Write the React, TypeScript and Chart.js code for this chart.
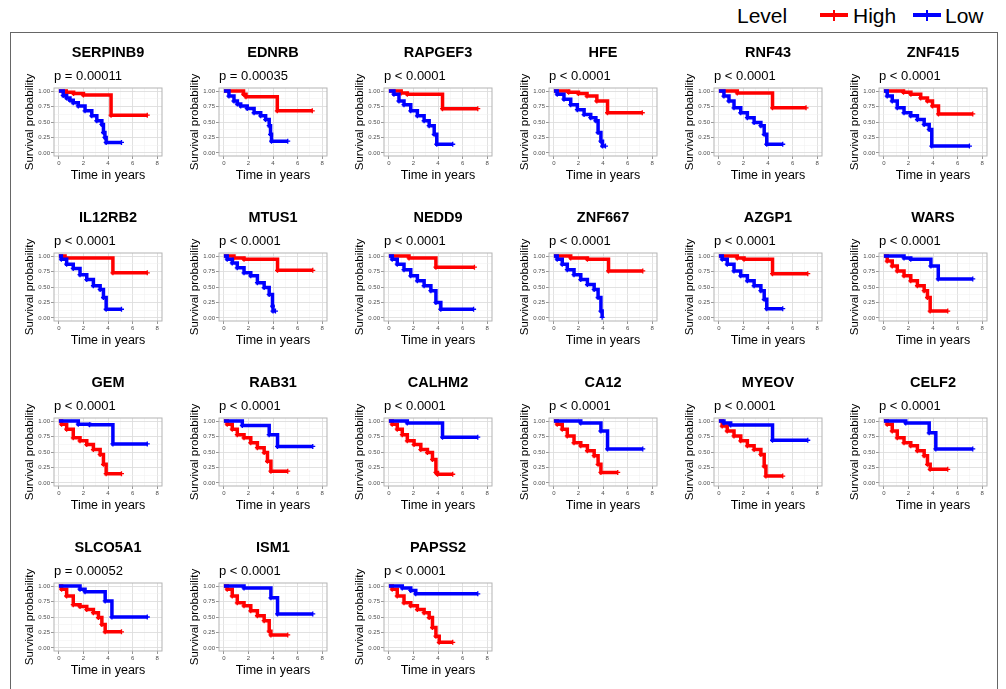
import React, { useEffect, useRef } from "react";
import { Chart, registerables } from "chart.js";
Chart.register(...registerables);

const genes = ["SERPINB9","EDNRB","RAPGEF3","HFE","RNF43","ZNF415","IL12RB2","MTUS1","NEDD9","ZNF667","AZGP1","WARS","GEM","RAB31","CALHM2","CA12","MYEOV","CELF2","SLCO5A1","ISM1","PAPSS2"];
const pValues = ["p = 0.00011","p = 0.00035","p < 0.0001","p < 0.0001","p < 0.0001","p < 0.0001","p < 0.0001","p < 0.0001","p < 0.0001","p < 0.0001","p < 0.0001","p < 0.0001","p < 0.0001","p < 0.0001","p < 0.0001","p < 0.0001","p < 0.0001","p < 0.0001","p = 0.00052","p < 0.0001","p < 0.0001"];
const groupLabels = ["High", "Low"];
const xTickValues = [0, 1, 2, 3, 4, 5, 6, 7, 8];
const xTickLabels = ["0", "", "2", "", "4", "", "6", "", "8"];
const yTickValues = [0, 0.125, 0.25, 0.375, 0.5, 0.625, 0.75, 0.875, 1];
const yTickLabels = ["0.00", "", "0.25", "", "0.50", "", "0.75", "", "1.00"];

const highTimes: number[][] = [
  [0,0.6,1.2,2.0,4.25,7.2],
  [0,1.6,1.8,4.35,7.2],
  [0,1.0,1.5,4.37,7.24],
  [0,1.2,2.0,2.7,3.5,4.37,7.2],
  [0,1.5,4.37,7.1],
  [0,1.6,2.2,3.0,3.55,3.96,4.45,7.24],
  [0,0.5,4.4,7.2],
  [0,0.82,1.64,4.37,7.24],
  [0,1.64,3.83,6.97],
  [0,1.37,2.73,4.45,7.24],
  [0,1.5,2.05,4.37,7.24],
  [0,0.27,0.68,1.09,1.64,2.19,2.73,3.28,3.55,3.77,5.2],
  [0,0.22,0.63,1.17,1.72,2.27,2.81,3.36,3.63,3.85,5.1],
  [0,0.27,0.68,1.09,1.64,2.19,2.73,3.28,3.55,3.83,5.2],
  [0,0.27,0.68,1.09,1.5,2.05,2.6,3.14,3.55,3.83,3.96,5.2],
  [0,0.27,0.68,1.09,1.64,2.19,2.73,3.28,3.6,3.83,5.2],
  [0,0.27,0.68,1.23,1.78,2.32,2.87,3.42,3.69,3.83,5.2],
  [0,0.27,0.68,1.09,1.64,2.19,2.73,3.28,3.55,3.77,5.2],
  [0,0.22,0.63,1.17,1.72,2.27,2.81,3.22,3.5,3.77,5.1],
  [0,0.27,0.68,1.09,1.64,2.19,2.73,3.28,3.69,3.83,5.2],
  [0,0.27,0.68,1.23,1.78,2.32,2.87,3.28,3.55,3.83,4.1,5.2],
];
const highSurv: number[][] = [
  [1,0.98,0.96,0.935,0.61,0.61],
  [1,0.95,0.91,0.68,0.68],
  [1,0.97,0.95,0.715,0.715],
  [1,0.98,0.96,0.92,0.84,0.65,0.65],
  [1,0.97,0.73,0.73],
  [1,0.98,0.95,0.89,0.84,0.76,0.63,0.63],
  [1,0.97,0.73,0.73],
  [1,0.97,0.95,0.77,0.77],
  [1,0.97,0.82,0.82],
  [1,0.97,0.95,0.76,0.76],
  [1,0.97,0.95,0.715,0.715],
  [1,0.92,0.84,0.76,0.68,0.60,0.52,0.44,0.33,0.11,0.11],
  [1,0.95,0.87,0.73,0.68,0.62,0.54,0.46,0.30,0.15,0.15],
  [1,0.95,0.87,0.78,0.73,0.65,0.57,0.49,0.35,0.19,0.19],
  [1,0.95,0.87,0.78,0.68,0.62,0.54,0.49,0.38,0.17,0.14,0.14],
  [1,0.95,0.87,0.76,0.65,0.60,0.52,0.44,0.30,0.17,0.17],
  [1,0.92,0.84,0.76,0.68,0.60,0.54,0.46,0.27,0.11,0.11],
  [1,0.95,0.84,0.73,0.65,0.60,0.52,0.44,0.30,0.22,0.22],
  [1,0.95,0.84,0.70,0.67,0.62,0.57,0.49,0.38,0.26,0.26],
  [1,0.95,0.84,0.73,0.68,0.60,0.52,0.44,0.27,0.21,0.21],
  [1,0.95,0.84,0.73,0.68,0.62,0.57,0.49,0.33,0.19,0.09,0.09],
];
const lowTimes: number[][] = [
  [0,0.35,0.63,0.9,1.17,1.58,2.13,2.68,3.09,3.5,3.63,3.75,3.85,5.1],
  [0,0.41,0.82,1.1,1.37,1.9,2.46,3.0,3.4,3.69,3.8,3.88,5.2],
  [0,0.41,0.82,1.23,1.78,2.32,2.87,3.28,3.69,3.9,5.2],
  [0,0.27,0.82,1.37,1.91,2.46,3.0,3.42,3.6,3.83,3.96,4.2],
  [0,0.41,0.82,1.23,1.78,2.32,2.87,3.42,3.69,3.9,5.2],
  [0,0.27,0.68,1.09,1.64,2.19,2.73,3.28,3.69,3.9,6.97],
  [0,0.2,0.63,1.17,1.72,2.27,2.81,3.36,3.63,3.85,5.1],
  [0,0.27,0.68,1.09,1.64,2.19,2.73,3.28,3.69,3.96,4.0,4.2],
  [0,0.27,0.68,1.23,1.78,2.32,2.87,3.42,3.83,4.23,6.9],
  [0,0.27,0.68,1.09,1.64,2.19,2.73,3.28,3.6,3.83,3.93],
  [0,0.27,0.68,1.23,1.78,2.32,2.87,3.42,3.69,3.9,5.2],
  [0,1.64,2.19,3.83,4.43,7.24],
  [0,1.58,2.5,4.4,7.2],
  [0,1.5,3.69,4.37,7.24],
  [0,1.5,4.37,7.24],
  [0,2.19,3.83,4.37,7.24],
  [0,0.41,0.96,4.37,7.24],
  [0,1.78,3.69,4.23,7.24],
  [0,1.72,2.13,3.77,4.32,7.2],
  [0,1.64,3.83,4.37,7.24],
  [0,1.09,1.78,2.19,7.24],
];
const lowSurv: number[][] = [
  [1,0.93,0.89,0.85,0.81,0.76,0.68,0.60,0.52,0.46,0.33,0.25,0.17,0.17],
  [1,0.92,0.84,0.79,0.76,0.72,0.65,0.60,0.54,0.44,0.30,0.19,0.19],
  [1,0.95,0.84,0.78,0.68,0.60,0.52,0.44,0.30,0.14,0.14],
  [1,0.95,0.87,0.78,0.70,0.62,0.57,0.52,0.33,0.19,0.11,0.11],
  [1,0.92,0.84,0.73,0.65,0.57,0.49,0.44,0.30,0.14,0.14],
  [1,0.92,0.84,0.73,0.65,0.60,0.54,0.46,0.38,0.11,0.11],
  [1,0.95,0.87,0.80,0.70,0.62,0.52,0.46,0.33,0.14,0.14],
  [1,0.95,0.89,0.81,0.73,0.68,0.57,0.49,0.38,0.19,0.11,0.11],
  [1,0.95,0.87,0.78,0.68,0.60,0.52,0.44,0.25,0.14,0.14],
  [1,0.95,0.87,0.78,0.70,0.62,0.54,0.46,0.33,0.11,0.01],
  [1,0.95,0.87,0.76,0.68,0.60,0.52,0.44,0.30,0.15,0.15],
  [1,0.97,0.95,0.84,0.63,0.63],
  [1,0.95,0.94,0.63,0.63],
  [1,0.93,0.78,0.59,0.59],
  [1,0.97,0.74,0.74],
  [1,0.97,0.84,0.55,0.55],
  [1,0.97,0.935,0.69,0.69],
  [1,0.97,0.81,0.55,0.55],
  [1,0.95,0.91,0.76,0.50,0.50],
  [1,0.97,0.81,0.55,0.55],
  [1,0.97,0.93,0.875,0.875],
];

const FONT = "'Liberation Sans', Arial, Helvetica, sans-serif";
const COLORS = ["#ff0000", "#0000ff"];

const framePlugin = {
  id: "frame",
  afterDatasetsDraw(chart: any) {
    const { ctx, chartArea: a } = chart;
    ctx.save();
    ctx.strokeStyle = "#b3b3b3";
    ctx.lineWidth = 1;
    ctx.strokeRect(a.left, a.top, a.right - a.left, a.bottom - a.top);
    ctx.restore();
  },
};

function gridOpts(labels: string[]) {
  return {
    color: (c: any) => (labels[c.index] ? "#dedede" : "#efefef"),
    lineWidth: (c: any) => (labels[c.index] ? 0.9 : 0.5),
    tickColor: (c: any) => (labels[c.index] ? "#8c8c8c" : "rgba(0,0,0,0)"),
    tickLength: 3,
    drawTicks: true,
  };
}

function makeConfig(i: number): any {
  const sets = [
    { t: highTimes[i], s: highSurv[i] },
    { t: lowTimes[i], s: lowSurv[i] },
  ];
  return {
    type: "line",
    data: {
      datasets: sets.map((d, g) => ({
        label: groupLabels[g],
        data: d.t.map((t, k) => ({ x: t, y: d.s[k] })),
        borderColor: COLORS[g],
        backgroundColor: COLORS[g],
        borderWidth: 3.5,
        stepped: "before",
        fill: false,
        pointStyle: "cross",
        pointRadius: (c: any) => (c.dataIndex === 0 ? 0 : 2.5),
        pointBorderWidth: 1.3,
        pointHoverRadius: 0,
        order: g === 0 ? 1 : 0,
      })),
    },
    options: {
      responsive: false,
      animation: false,
      devicePixelRatio: 1,
      layout: { padding: { left: 0, right: 4, top: 0, bottom: 0 } },
      plugins: {
        legend: { display: false },
        tooltip: { enabled: false },
        title: {
          display: true,
          text: genes[i],
          fullSize: false,
          color: "#000",
          font: { size: 14.5, weight: "bold", family: FONT, lineHeight: 1.2 },
          padding: { top: 1.3, bottom: 0 },
        },
        subtitle: {
          display: true,
          text: pValues[i],
          fullSize: false,
          align: "start",
          color: "#000",
          font: { size: 13, family: FONT, lineHeight: 1.2 },
          padding: { top: 6.9, bottom: 3.8 },
        },
      },
      scales: {
        x: {
          type: "linear",
          min: -0.4,
          max: 8.4,
          afterBuildTicks: (s: any) => {
            s.ticks = xTickValues.map((v) => ({ value: v }));
          },
          afterFit: (s: any) => {
            s.height = 28;
          },
          ticks: {
            autoSkip: false,
            maxRotation: 0,
            padding: 1,
            color: "#4d4d4d",
            font: { size: 6, family: FONT },
            callback: (_v: any, idx: number) => xTickLabels[idx],
          },
          grid: gridOpts(xTickLabels),
          border: { display: false },
          title: {
            display: true,
            text: "Time in years",
            color: "#000",
            font: { size: 12.5, family: FONT, lineHeight: 1.2 },
            padding: { top: 0, bottom: 0.8 },
          },
        },
        y: {
          type: "linear",
          min: -0.05,
          max: 1.05,
          afterBuildTicks: (s: any) => {
            s.ticks = yTickValues.map((v) => ({ value: v }));
          },
          afterFit: (s: any) => {
            s.width = 34;
          },
          ticks: {
            autoSkip: false,
            padding: 1,
            color: "#4d4d4d",
            font: { size: 6, family: FONT },
            callback: (_v: any, idx: number) => yTickLabels[idx],
          },
          grid: gridOpts(yTickLabels),
          border: { display: false },
          title: {
            display: true,
            text: "Survival probability",
            color: "#000",
            font: { size: 11.5, family: FONT, lineHeight: 1.2 },
            padding: { top: 3.1, bottom: 0 },
          },
        },
      },
    },
    plugins: [framePlugin],
  };
}

function Panel({ idx }: { idx: number }) {
  const ref = useRef<HTMLCanvasElement>(null);
  useEffect(() => {
    const chart = new Chart(ref.current as HTMLCanvasElement, makeConfig(idx));
    return () => chart.destroy();
  }, [idx]);
  const r = Math.floor(idx / 6);
  const c = idx % 6;
  return (
    <canvas
      ref={ref}
      width={146}
      height={141}
      style={{ position: "absolute", left: 20 + 165 * c, top: 43 + 165 * r, width: 146, height: 141 }}
    />
  );
}

function LegendKey({ left, color }: { left: number; color: string }) {
  return (
    <>
      <div style={{ position: "absolute", left, top: 13, width: 28, height: 4, background: color }} />
      <div style={{ position: "absolute", left: left + 12.5, top: 9.5, width: 2.5, height: 11, background: color }} />
    </>
  );
}

export default function App() {
  const textStyle: React.CSSProperties = {
    position: "absolute",
    top: 5,
    fontFamily: FONT,
    fontSize: 21,
    lineHeight: "21px",
    color: "#000",
    whiteSpace: "nowrap",
  };
  return (
    <div style={{ position: "fixed", left: 0, top: 0, width: 1006, height: 689, background: "#fff", overflow: "hidden" }}>
      <div style={{ ...textStyle, left: 737 }}>Level</div>
      <LegendKey left={820} color={COLORS[0]} />
      <div style={{ ...textStyle, left: 853 }}>{groupLabels[0]}</div>
      <LegendKey left={913} color={COLORS[1]} />
      <div style={{ ...textStyle, left: 945 }}>{groupLabels[1]}</div>
      <div
        style={{
          position: "absolute",
          left: 10,
          top: 32,
          width: 986,
          height: 720,
          border: "1.5px solid #666",
        }}
      />
      {genes.map((_, i) => (
        <Panel key={i} idx={i} />
      ))}
    </div>
  );
}
